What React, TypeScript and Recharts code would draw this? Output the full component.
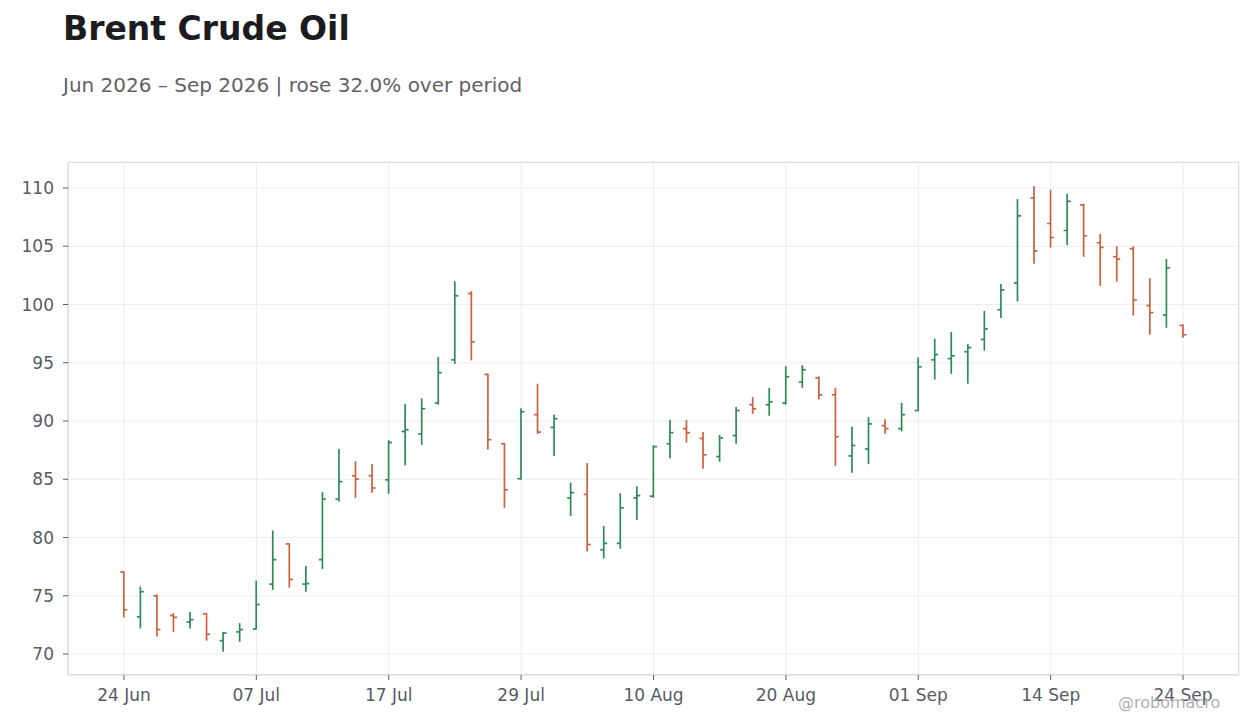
import React from 'react';
import { ComposedChart, Bar, XAxis, YAxis, CartesianGrid } from 'recharts';

// trading days, Jun 24 - Sep 24 2026 (US holidays skipped)
const dates = [
    '2026-06-24', '2026-06-25', '2026-06-26', '2026-06-29', '2026-06-30',
    '2026-07-01', '2026-07-02', '2026-07-06', '2026-07-07', '2026-07-08', '2026-07-09', '2026-07-10',
    '2026-07-13', '2026-07-14', '2026-07-15', '2026-07-16', '2026-07-17', '2026-07-20', '2026-07-21',
    '2026-07-22', '2026-07-23', '2026-07-24', '2026-07-27', '2026-07-28', '2026-07-29', '2026-07-30',
    '2026-07-31', '2026-08-03', '2026-08-04', '2026-08-05', '2026-08-06', '2026-08-07', '2026-08-10',
    '2026-08-11', '2026-08-12', '2026-08-13', '2026-08-14', '2026-08-17', '2026-08-18', '2026-08-19',
    '2026-08-20', '2026-08-21', '2026-08-24', '2026-08-25', '2026-08-26', '2026-08-27', '2026-08-28',
    '2026-08-31', '2026-09-01', '2026-09-02', '2026-09-03', '2026-09-04', '2026-09-08', '2026-09-09',
    '2026-09-10', '2026-09-11', '2026-09-14', '2026-09-15', '2026-09-16', '2026-09-17', '2026-09-18',
    '2026-09-21', '2026-09-22', '2026-09-23', '2026-09-24',
];

const opens = [
    77.05, 73.2, 75.0, 73.3, 72.75, 73.45, 71.15, 71.9, 72.15, 76.0, 79.45, 76.0,
    78.1, 83.3, 85.3, 85.3, 84.95, 89.1, 88.9, 91.55, 95.25, 100.95, 94.0, 88.05,
    85.05, 90.55, 89.45, 83.4, 83.7, 78.95, 79.5, 83.4, 83.55, 88.05, 89.35, 88.5,
    86.95, 88.75, 91.4, 91.4, 91.55, 93.35, 93.7, 92.25, 87.0, 87.6, 89.6, 89.35,
    90.9, 95.25, 95.35, 95.95, 97.0, 99.55, 101.85, 109.15, 106.95, 106.35, 108.55, 105.3,
    104.1, 104.8, 99.9, 99.1, 98.2,
];
const highs = [
    77.1, 75.8, 75.1, 73.5, 73.6, 73.5, 71.9, 72.65, 76.3, 80.6, 79.5, 77.55,
    83.9, 87.6, 86.55, 86.3, 88.35, 91.45, 91.95, 95.5, 102.0, 101.15, 94.05, 88.1,
    91.1, 93.2, 90.55, 84.7, 86.4, 81.0, 83.8, 84.4, 87.9, 90.1, 90.1, 89.05,
    88.8, 91.2, 92.05, 92.85, 94.7, 94.8, 93.85, 92.85, 89.5, 90.35, 90.15, 91.55,
    95.45, 97.05, 97.65, 96.6, 99.45, 101.75, 109.05, 110.15, 109.85, 109.5, 108.65, 106.05,
    105.0, 105.0, 102.25, 103.9, 98.3,
];
const lows = [
    73.15, 72.2, 71.5, 71.9, 72.2, 71.15, 70.2, 71.05, 72.1, 75.5, 75.7, 75.35,
    77.3, 83.1, 83.4, 83.85, 83.75, 86.2, 87.95, 91.4, 94.9, 95.2, 87.55, 82.55,
    84.95, 88.9, 87.0, 81.85, 78.8, 78.2, 79.05, 81.5, 83.4, 86.8, 88.15, 85.9,
    86.5, 88.05, 90.6, 90.45, 91.4, 92.85, 91.85, 86.15, 85.55, 86.3, 88.9, 89.1,
    90.85, 93.55, 94.05, 93.2, 96.05, 98.85, 100.25, 103.5, 104.9, 105.1, 104.1, 101.6,
    101.95, 99.05, 97.4, 98.0, 97.15,
];
const closes = [
    73.8, 75.35, 72.1, 73.15, 72.95, 71.7, 71.8, 72.1, 74.25, 78.1, 76.4, 76.05,
    83.3, 84.8, 85.0, 84.25, 88.15, 89.25, 91.05, 94.15, 100.75, 96.8, 88.4, 84.1,
    90.8, 89.05, 90.2, 83.85, 79.4, 79.5, 82.55, 83.6, 87.8, 89.0, 89.0, 87.1,
    88.55, 90.9, 91.05, 91.65, 93.8, 94.4, 92.25, 88.65, 87.9, 89.75, 89.35, 90.55,
    94.65, 95.7, 95.6, 96.3, 97.9, 101.25, 107.6, 104.6, 105.75, 108.85, 105.9, 104.9,
    103.9, 100.4, 99.3, 103.15, 97.4,
];

const xTicks = [0, 8, 16, 24, 32, 40, 48, 56, 64];
const yTicks = [70, 75, 80, 85, 90, 95, 100, 105, 110];
const MONTHS = ['Jan', 'Feb', 'Mar', 'Apr', 'May', 'Jun', 'Jul', 'Aug', 'Sep', 'Oct', 'Nov', 'Dec'];

const UP = '#2e8b57';
const DOWN = '#cc603f';
const FONT = '"DejaVu Sans", sans-serif';

const data = dates.map((d, i) => ({
    i,
    date: d,
    open: opens[i],
    high: highs[i],
    low: lows[i],
    close: closes[i],
}));

const fmtDate = (i: number) => {
    const d = dates[i];
    if (!d) return '';
    const [, m, day] = d.split('-');
    return `${day} ${MONTHS[parseInt(m, 10) - 1]}`;
};

const pct = ((closes[closes.length - 1] / closes[0] - 1) * 100).toFixed(1);

const OhlcShape = (props: any) => {
    const { x, y, width, height, payload } = props;
    if (!payload) return null;
    const cx = x + width / 2;
    const top = Math.min(y, y + height);
    const h = Math.abs(height);
    const span = payload.high - payload.low || 1;
    const py = (v: number) => top + ((payload.high - v) / span) * h;
    const color = payload.close >= payload.open ? UP : DOWN;
    const tick = 3.5;
    return (
        <g stroke={color} strokeWidth={1.7}>
            <line x1={cx} x2={cx} y1={top} y2={top + h} />
            <line x1={cx - tick} x2={cx} y1={py(payload.open)} y2={py(payload.open)} />
            <line x1={cx} x2={cx + tick} y1={py(payload.close)} y2={py(payload.close)} />
        </g>
    );
};

export default function App() {
    const tickStyle = { fontFamily: FONT, fontSize: 17, fill: '#575b63' };
    return (
        <div style={{ position: 'relative', width: 1260, height: 728, background: '#fff', fontFamily: FONT }}>
            <style>{`body { margin: 0; }`}</style>
            <div style={{ position: 'absolute', left: 63, top: 12, fontSize: 33, lineHeight: '33px', fontWeight: 'bold', color: '#1b1b20' }}>
                Brent Crude Oil
            </div>
            <div style={{ position: 'absolute', left: 63, top: 75, fontSize: 20, lineHeight: '20px', color: '#5f6169' }}>
                Jun 2026 – Sep 2026 | rose {pct}% over period
            </div>
            <ComposedChart
                width={1260}
                height={728}
                data={data}
                margin={{ top: 162, right: 21, left: 8, bottom: 23 }}
            >
                <CartesianGrid stroke="#ececec" strokeWidth={1} />
                <XAxis
                    dataKey="i"
                    type="number"
                    domain={[-3.38, 67.38]}
                    ticks={xTicks}
                    tickFormatter={fmtDate}
                    allowDecimals={false}
                    height={30}
                    tick={tickStyle}
                    tickSize={5}
                    tickMargin={9}
                    axisLine={{ stroke: '#dddddd' }}
                    tickLine={{ stroke: '#5a5e66' }}
                />
                <YAxis
                    type="number"
                    domain={[68.2, 112.23]}
                    ticks={yTicks}
                    allowDataOverflow
                    width={60}
                    tick={tickStyle}
                    tickSize={5}
                    tickMargin={9}
                    axisLine={{ stroke: '#dddddd' }}
                    tickLine={{ stroke: '#5a5e66' }}
                />
                <Bar
                    dataKey={(d: any) => [d.low, d.high]}
                    shape={<OhlcShape />}
                    isAnimationActive={false}
                />
            </ComposedChart>
            <div style={{ position: 'absolute', left: 68, top: 162, width: 1171, height: 513, border: '1px solid #dddddd', boxSizing: 'border-box', pointerEvents: 'none' }} />
            <div style={{ position: 'absolute', left: 1118, top: 695, fontSize: 16, lineHeight: '16px', color: '#b0b0b0' }}>
                @robomacro
            </div>
        </div>
    );
}
